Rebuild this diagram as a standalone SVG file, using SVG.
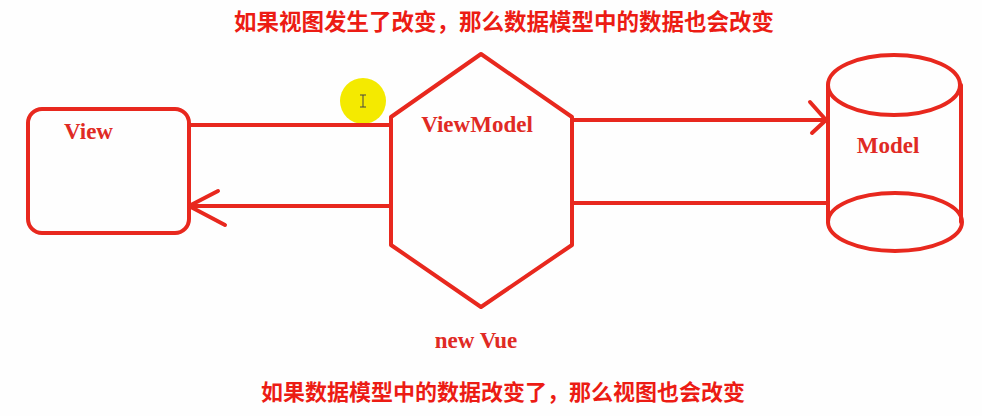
<svg xmlns="http://www.w3.org/2000/svg" width="982" height="416" viewBox="0 0 982 416">
<style>
.s{fill:none;stroke:#e8281e;stroke-width:4;stroke-linecap:round;stroke-linejoin:round}
.lbl{font-family:"Liberation Serif","Times New Roman",serif;font-weight:bold;fill:#e02a24;font-size:23px}
.cn{font-family:"Noto Sans CJK SC","Noto Sans",sans-serif;font-weight:bold;fill:#ec1c14;font-size:22px;text-anchor:middle}
</style>
<rect width="982" height="416" fill="#fefefe"/>
<text class="cn" x="504" y="30" style="font-size:22.5px">如果视图发生了改变，那么数据模型中的数据也会改变</text>
<text class="cn" x="503" y="400">如果数据模型中的数据改变了，那么视图也会改变</text>
<g id="cursor">
<circle cx="363" cy="101" r="23" fill="#f4ea00"/>
<path d="M360 95h6M363 95v12M360 107h6" stroke="#444" stroke-width="1" fill="none"/>
</g>
<g id="connectors">
<path class="s" d="M189 125H390"/>
<path class="s" d="M189 206H390"/>
<path class="s" d="M218 191L189 206L225 225"/>
<path class="s" d="M572 120H826"/>
<path class="s" d="M810 102L826 120L812 133"/>
<path class="s" d="M572 203H828"/>
</g>
<g id="view">
<rect class="s" x="28" y="109" width="161" height="124" rx="14"/>
<text class="lbl" x="64" y="139">View</text>
</g>
<g id="viewmodel">
<polygon class="s" points="481,54 572,117 572,245 481,307 391,245 391,117"/>
<text class="lbl" x="477" y="132" text-anchor="middle">ViewModel</text>
<text class="lbl" x="476" y="348" text-anchor="middle">new Vue</text>
</g>
<g id="model">
<path class="s" d="M828 85V222M961 85V222"/>
<ellipse class="s" cx="894" cy="85" rx="66" ry="30"/>
<ellipse class="s" cx="895" cy="222" rx="67" ry="29"/>
<text class="lbl" x="888" y="153" text-anchor="middle">Model</text>
</g>
</svg>
